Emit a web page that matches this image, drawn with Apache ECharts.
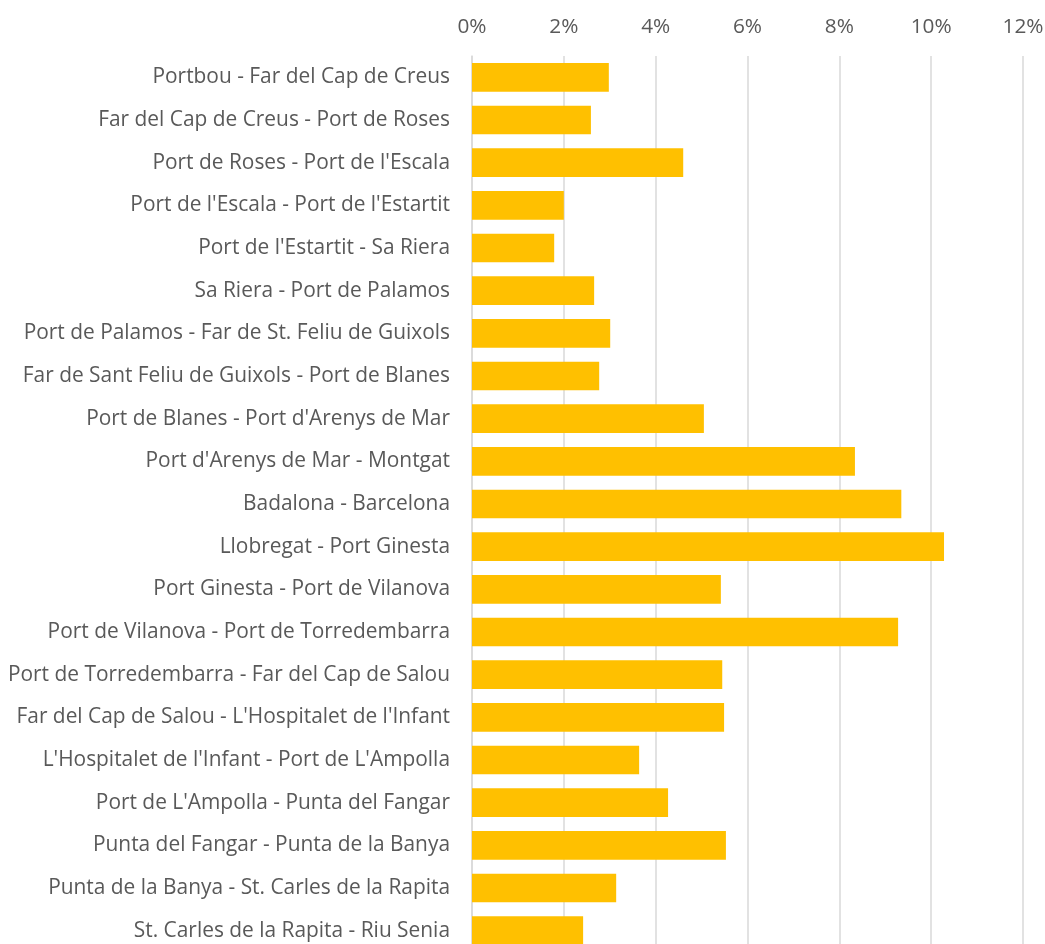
<!DOCTYPE html>
<html>
<head>
<meta charset="utf-8">
<script src="https://cdn.jsdelivr.net/npm/echarts@6/dist/echarts.min.js"></script>
<style>
  html, body { margin: 0; padding: 0; background: #fff; }
  #chart { width: 1045px; height: 944px; }
</style>
</head>
<body>
<div id="chart"></div>
<script>
const trams = [
  'Portbou - Far del Cap de Creus',
  'Far del Cap de Creus - Port de Roses',
  "Port de Roses - Port de l'Escala",
  "Port de l'Escala - Port de l'Estartit",
  "Port de l'Estartit - Sa Riera",
  'Sa Riera - Port de Palamos',
  'Port de Palamos - Far de St. Feliu de Guixols',
  'Far de Sant Feliu de Guixols - Port de Blanes',
  "Port de Blanes - Port d'Arenys de Mar",
  "Port d'Arenys de Mar - Montgat",
  'Badalona - Barcelona',
  'Llobregat - Port Ginesta',
  'Port Ginesta - Port de Vilanova',
  'Port de Vilanova - Port de Torredembarra',
  'Port de Torredembarra - Far del Cap de Salou',
  "Far del Cap de Salou - L'Hospitalet de l'Infant",
  "L'Hospitalet de l'Infant - Port de L'Ampolla",
  "Port de L'Ampolla - Punta del Fangar",
  'Punta del Fangar - Punta de la Banya',
  'Punta de la Banya - St. Carles de la Rapita',
  'St. Carles de la Rapita - Riu Senia'
];

// percentatge per tram
const percentatges = [
  2.98, 2.59, 4.60, 2.00, 1.79, 2.66, 3.01, 2.77, 5.05, 8.34, 9.35,
  10.28, 5.42, 9.28, 5.45, 5.49, 3.64, 4.27, 5.53, 3.14, 2.42
];

const chart = echarts.init(document.getElementById('chart'));

chart.setOption({
  animation: false,
  textStyle: { fontFamily: 'Open Sans' },
  grid: { left: 472, right: 22, top: 56, bottom: -8, outerBoundsMode: 'none' },
  xAxis: {
    type: 'value',
    position: 'top',
    min: 0,
    max: 12,
    interval: 2,
    axisLine: { show: false },
    axisTick: { show: false },
    axisLabel: {
      formatter: v => v + '%',
      color: '#595959',
      fontSize: 20.8,
      margin: 18
    },
    splitLine: { lineStyle: { color: '#d9d9d9', width: 1.5 } }
  },
  yAxis: {
    type: 'category',
    inverse: true,
    data: trams,
    axisLine: { show: true, lineStyle: { color: '#d9d9d9', width: 1.5 } },
    axisTick: { show: false },
    axisLabel: { color: '#595959', fontSize: 20.9, margin: 22 }
  },
  series: [{
    type: 'bar',
    data: percentatges,
    barCategoryGap: '33%',
    itemStyle: { color: '#FFC000' }
  }]
});
</script>
</body>
</html>
